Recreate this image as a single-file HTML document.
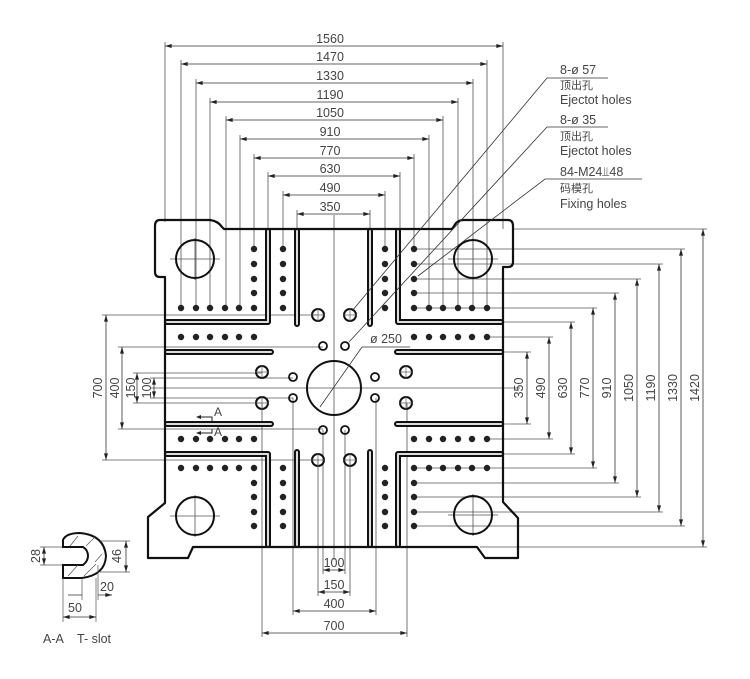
<!DOCTYPE html>
<html><head><meta charset="utf-8"><style>
html,body{margin:0;padding:0;background:#fff}
svg{display:block}
text{font-family:"Liberation Sans","Noto Sans CJK SC",sans-serif;fill:#444}
</style></head><body>
<svg width="750" height="679" viewBox="0 0 750 679" xmlns="http://www.w3.org/2000/svg">
<defs>
<marker id="a" viewBox="0 0 10 6" refX="10" refY="3" markerWidth="8" markerHeight="4" orient="auto-start-reverse" markerUnits="userSpaceOnUse"><path d="M0,0 L10,3 L0,6z" fill="#222"/></marker>
<g id="dots" fill="#222">
<circle cx="181" cy="308" r="3.2"/><circle cx="196" cy="308" r="3.2"/><circle cx="210" cy="308" r="3.2"/><circle cx="225" cy="308" r="3.2"/><circle cx="239" cy="308" r="3.2"/><circle cx="254" cy="308" r="3.2"/>
<circle cx="254" cy="249" r="3.2"/><circle cx="254" cy="264" r="3.2"/><circle cx="254" cy="279" r="3.2"/><circle cx="254" cy="293" r="3.2"/>
<circle cx="283" cy="249" r="3.2"/><circle cx="283" cy="264" r="3.2"/><circle cx="283" cy="279" r="3.2"/><circle cx="283" cy="293" r="3.2"/><circle cx="283" cy="308" r="3.2"/>
<circle cx="181" cy="337" r="3.2"/><circle cx="196" cy="337" r="3.2"/><circle cx="210" cy="337" r="3.2"/><circle cx="225" cy="337" r="3.2"/><circle cx="239" cy="337" r="3.2"/><circle cx="254" cy="337" r="3.2"/>
<circle cx="181" cy="439" r="3.2"/><circle cx="196" cy="439" r="3.2"/><circle cx="210" cy="439" r="3.2"/><circle cx="225" cy="439" r="3.2"/><circle cx="239" cy="439" r="3.2"/><circle cx="254" cy="439" r="3.2"/>
<circle cx="181" cy="468" r="3.2"/><circle cx="196" cy="468" r="3.2"/><circle cx="210" cy="468" r="3.2"/><circle cx="225" cy="468" r="3.2"/><circle cx="239" cy="468" r="3.2"/><circle cx="254" cy="468" r="3.2"/>
<circle cx="254" cy="483" r="3.2"/><circle cx="254" cy="497" r="3.2"/><circle cx="254" cy="512" r="3.2"/><circle cx="254" cy="526" r="3.2"/>
<circle cx="283" cy="468" r="3.2"/><circle cx="283" cy="483" r="3.2"/><circle cx="283" cy="497" r="3.2"/><circle cx="283" cy="512" r="3.2"/><circle cx="283" cy="526" r="3.2"/>
</g>
<g id="ej" fill="none" stroke="#111">
<g stroke-width="2"><circle cx="318" cy="315" r="6"/><circle cx="262" cy="372" r="6"/><circle cx="262" cy="403" r="6"/><circle cx="318" cy="460" r="6"/></g>
<g stroke-width="1.8"><circle cx="323" cy="346" r="4"/><circle cx="293" cy="377" r="4"/><circle cx="293" cy="398" r="4"/><circle cx="323" cy="430" r="4"/></g>
<g stroke="#666" stroke-width="0.7"><path d="M311,315h14M318,308v14M255,372h14M262,365v14M255,403h14M262,396v14M311,460h14M318,453v14"/></g>
</g>
</defs>

<g stroke="#555" stroke-width="0.8" fill="none">
<path d="M334,215V560M150,388H520"/>
<path d="M165,42V222M181,60V308M196,79V308M210,98V308M226,116V308M240,135V308M254,154V249M268,172V229M283,191V249M297,210V229"/>
<path d="M503,42V229M487,60V308M473,79V308M458,98V308M443,116V308M429,135V308M414,154V249M400,172V229M385,191V249M370,210V229"/>
<path d="M512,229H707M414,249H685M414,264H663M414,279H641M414,293H619M414,308H597M503,322H575M487,337H553M503,352H531M503,424H531M487,439H553M503,454H575M414,468H597M414,483H619M414,497H641M414,512H663M414,526H685M480,547H707"/>
<path d="M102,315H318M118,347H323M133,373H262M150,378H293M150,398H293M133,403H262M118,429H323M102,460H318"/>
<path d="M323,430V574M345,430V574M318,460V596M350,460V596M293,398V615M376,398V615M262,403V637M407,403V637"/>
<path d="M170,259h50M195,238v42M448,259h50M473,238v42M170,516h50M195,495v42M448,515h50M473,494v42"/>
</g>

<path d="M160,220 H210 Q218,221 222,227 L224,229 H452 L456,223 Q459,220 464,220 H508 Q513,220 513,226 V262 Q513,267 508,267 H503 V502 L518,518 V558 H485 L477,547 H193 L188,558 H148 V517 L165,503 V277 H160 Q155,277 155,272 V226 Q155,220 160,220Z" fill="none" stroke="#111" stroke-width="2.2" stroke-linejoin="round"/>

<g fill="none" stroke-linejoin="round">
<g stroke="#111" stroke-width="6" stroke-linecap="round">
<path d="M268,231V322H167M398,231V322H501M268,545V454H167M398,545V454H501M297,231V324M370,231V324M297,545V452M370,545V452M167,352H271M167,424H271M397,352H501M397,424H501"/>
</g>
<g stroke="#ddd" stroke-width="2" stroke-linecap="round">
<path d="M268,231V322H167M398,231V322H501M268,545V454H167M398,545V454H501M297,231V324M370,231V324M297,545V452M370,545V452M167,352H271M167,424H271M397,352H501M397,424H501"/>
</g>
</g>

<use href="#dots"/>
<use href="#dots" transform="translate(668,0) scale(-1,1)"/>
<use href="#ej"/>
<use href="#ej" transform="translate(668,0) scale(-1,1)"/>

<g fill="none" stroke="#111" stroke-width="2">
<circle cx="195" cy="259" r="19"/><circle cx="473" cy="259" r="19"/><circle cx="195" cy="516" r="19"/><circle cx="473" cy="515" r="19"/>
<circle cx="334" cy="388" r="27"/>
</g>

<g stroke="#333" stroke-width="0.8" marker-start="url(#a)" marker-end="url(#a)">
<path d="M165,46H503"/><path d="M181,64H487"/><path d="M196,83H473"/><path d="M210,102H458"/><path d="M226,120H443"/><path d="M240,139H429"/><path d="M254,158H414"/><path d="M268,176H400"/><path d="M283,195H385"/><path d="M297,214H370"/>
<path d="M703,229V547"/><path d="M681,249V526"/><path d="M659,264V512"/><path d="M637,279V497"/><path d="M615,293V483"/><path d="M593,308V468"/><path d="M571,322V454"/><path d="M549,337V439"/><path d="M527,352V424"/>
<path d="M106,315V460"/><path d="M122,347V429"/><path d="M137,373V403"/><path d="M154,378V398"/>
<path d="M323,570H345"/><path d="M318,592H350"/><path d="M293,611H376"/><path d="M262,633H407"/>
</g>

<g font-size="12.5" text-anchor="middle">
<text x="330" y="43">1560</text><text x="330" y="61">1470</text><text x="330" y="80">1330</text><text x="330" y="99">1190</text><text x="330" y="117">1050</text><text x="330" y="136">910</text><text x="330" y="155">770</text><text x="330" y="173">630</text><text x="330" y="192">490</text><text x="330" y="211">350</text>
<text x="334" y="567">100</text><text x="334" y="589">150</text><text x="334" y="608">400</text><text x="334" y="630">700</text>
<g transform="rotate(-90)">
<text x="-388" y="699">1420</text><text x="-388" y="677">1330</text><text x="-388" y="655">1190</text><text x="-388" y="633">1050</text><text x="-388" y="611">910</text><text x="-388" y="589">770</text><text x="-388" y="567">630</text><text x="-388" y="545">490</text><text x="-388" y="523">350</text>
<text x="-388" y="102">700</text><text x="-388" y="119">400</text><text x="-388" y="135">150</text><text x="-388" y="151">100</text>
</g>
</g>

<g stroke="#333" stroke-width="0.8" fill="none">
<path d="M608,78H547L352,311"/>
<path d="M608,127H547L349,342"/>
<path d="M642,179H545L418,276"/>
<path d="M320,407L362,347H410"/>
</g>
<text x="370" y="343" font-size="12.5">ø 250</text>
<g font-size="12.5">
<text x="560" y="74">8-ø 57</text>
<text x="560" y="89" font-size="11">顶出孔</text>
<text x="560" y="104">Ejectot holes</text>
<text x="560" y="124">8-ø 35</text>
<text x="560" y="140" font-size="11">顶出孔</text>
<text x="560" y="155">Ejectot holes</text>
<text x="560" y="176">84-M24⫫48</text>
<text x="560" y="192" font-size="11">码模孔</text>
<text x="560" y="208">Fixing holes</text>
</g>

<g stroke="#222" stroke-width="1" fill="none">
<path d="M197,417H212V421M197,433H212V429"/>
</g>
<path d="M196,417l5,-2v4z M196,433l5,-2v4z" fill="#222"/>
<text x="214" y="416" font-size="12">A</text>
<text x="214" y="436" font-size="12">A</text>

<path d="M63,547 V540 Q66,533 80,533 Q104,535 106,556 Q105,575 82,578 H63 V565 H83 Q88,561 88,556 Q88,550 83,547Z" fill="none" stroke="#111" stroke-width="2"/>
<g stroke="#555" stroke-width="0.7" fill="none">
<path d="M70,546L78,536M86,546L96,536M95,562L102,554M68,576L78,565M84,576L96,564"/>
<path d="M40,547H62M40,565H62M82,578V600M98,565V600M63,578V622M96,578V622M100,541H130M100,572H130"/>
</g>
<g stroke="#333" stroke-width="0.8" marker-start="url(#a)" marker-end="url(#a)">
<path d="M44,547V565"/><path d="M126,541V572"/><path d="M63,617H96"/>
</g>
<g stroke="#333" stroke-width="0.8"><path d="M68,595H82M98,595H112" marker-end="url(#a)"/></g>
<g font-size="12.5" text-anchor="middle">
<text x="75" y="612">50</text>
<text x="107" y="591">20</text>
<g transform="rotate(-90)"><text x="-556" y="40">28</text><text x="-556" y="121">46</text></g>
</g>
<text x="43" y="643" font-size="12.5">A-A</text>
<text x="77" y="643" font-size="12.5">T- slot</text>
</svg>
</body></html>
